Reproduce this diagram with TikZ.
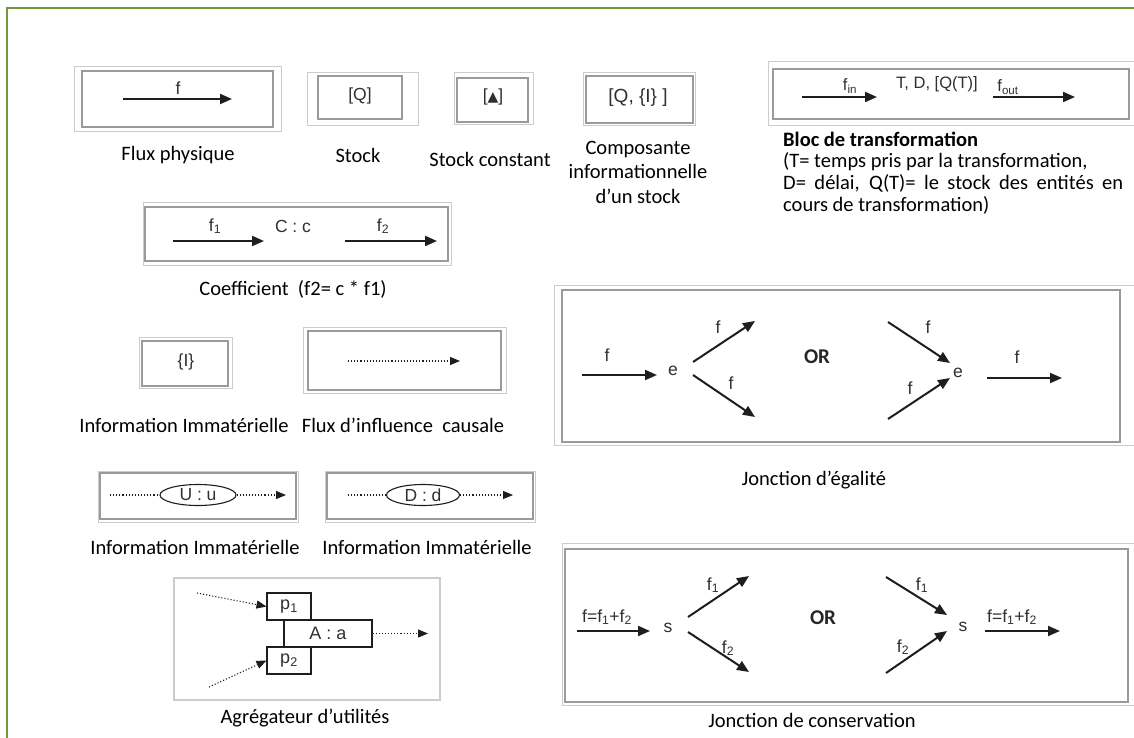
\documentclass[tikz,border=0pt]{standalone}
\usepackage{fontspec}
\setmainfont{Carlito}
\newfontfamily\arialf{Liberation Sans}
\newfontfamily\dejavuf{DejaVu Sans}
\usetikzlibrary{arrows.meta,shapes.geometric}
\definecolor{bordergreen}{HTML}{77933C}
\definecolor{outergray}{HTML}{CCCCCC}
\definecolor{innergray}{HTML}{9A9A9A}
\definecolor{inkdark}{HTML}{1E1E1E}
\definecolor{txtgray}{HTML}{303030}
\tikzset{
  outerbox/.style={draw=outergray, line width=1},
  innerbox/.style={draw=innergray, line width=1.6},
  flow/.style={draw=inkdark, line width=2, -{Triangle[length=12pt,width=10pt]}},
  infl/.style={draw=inkdark, line width=1.1, dotted, -{Triangle[length=10pt,width=8pt]}},
  inflline/.style={draw=inkdark, line width=1.1, dotted},
  lab/.style={font=\fontsize{20.5}{24.5}\selectfont, text=black, inner sep=0},
  dtxt/.style={font=\arialf\fontsize{17.5}{20}\selectfont, text=txtgray, inner sep=0},
  ortxt/.style={font=\bfseries\fontsize{21}{24}\selectfont, text=black!85, inner sep=0},
  ellnode/.style={ellipse, draw=inkdark, line width=1.1, minimum width=76, minimum height=21, inner sep=0, font=\arialf\fontsize{17.5}{19}\selectfont, text=txtgray},
  aggbox/.style={rectangle, draw=inkdark, line width=1.1, inner sep=0, font=\arialf\fontsize{18}{20}\selectfont, text=txtgray, minimum height=27}
}
\begin{document}
\begin{tikzpicture}[x=1pt,y=-1pt]
\useasboundingbox (0,0) rectangle (1134,738);
\fill[white] (0,0) rectangle (1134,738);
\draw[bordergreen, line width=2.2] (7,740) -- (7,8) -- (1136,8);

% Flux physique
\draw[outerbox] (74,67) rectangle (281,132);
\draw[innerbox] (82,71) rectangle (273,127);
\coordinate (fpA) at (123,99); \coordinate (fpB) at (232,99);
\draw[flow] (fpA) -- (fpB);
\node[dtxt] (fpf) at (178,88) {f};
\node[lab] (fplab) at (178,155) {Flux physique};

% Stock
\draw[outerbox] (307,73) rectangle (418,126);
\draw[innerbox] (318,76) rectangle (402,119);
\node[dtxt] (stq) at (360,96) {[Q]};
\node[lab] (stlab) at (358,155) {Stock};

% Stock constant
\draw[outerbox] (454,73) rectangle (533,125);
\draw[innerbox] (457,78) rectangle (528,122);
\node[dtxt] (sct) at (493,97) {[{\dejavuf\fontsize{14}{15}\selectfont ▲}]};
\node[lab] (sclab) at (490,159) {Stock constant};

% Composante informationnelle
\draw[outerbox] (583,73) rectangle (695,126);
\draw[innerbox] (586,76) rectangle (693,123);
\node[dtxt, font=\arialf\fontsize{19}{21}\selectfont] (cit) at (638,98) {[Q, \{I\} ]};
\node[lab, align=center, font=\fontsize{20.5}{24.5}\selectfont] (cilab) at (638,172) {Composante\\informationnelle\\d’un stock};

% Bloc de transformation
\draw[outerbox] (768,62) rectangle (1140,126);
\draw[innerbox] (773,69) rectangle (1129,119);
\coordinate (btA) at (802,97); \coordinate (btB) at (877,97);
\coordinate (btC) at (993,97); \coordinate (btD) at (1075,97);
\draw[flow] (btA) -- (btB);
\draw[flow] (btC) -- (btD);
\node[dtxt, font=\arialf\fontsize{16.5}{19}\selectfont] (btfin) at (850,86) {f\textsubscript{in}};
\node[dtxt, font=\arialf\fontsize{16.5}{19}\selectfont] (btmid) at (937,84) {T, D, [Q(T)]};
\node[dtxt, font=\arialf\fontsize{16.5}{19}\selectfont] (btfout) at (1008,87) {f\textsubscript{out}};
\node[lab, anchor=west, font=\bfseries\fontsize{20.5}{24.5}\selectfont] (btlab) at (783,139) {Bloc de transformation};
\node[lab, anchor=west] (btl1) at (783,162) {(T= temps pris par la transformation,};
\node[lab, anchor=west] (btl2) at (783,183.5) {\makebox[340pt][s]{D= délai, Q(T)= le stock des entités en}};
\node[lab, anchor=west] (btl3) at (783,205) {cours de transformation)};

% Coefficient
\draw[outerbox] (143,202) rectangle (451,265);
\draw[innerbox] (145,207) rectangle (448,261);
\coordinate (coA) at (173,241); \coordinate (coB) at (264,241);
\coordinate (coC) at (345,241); \coordinate (coD) at (437,241);
\draw[flow] (coA) -- (coB);
\draw[flow] (coC) -- (coD);
\node[dtxt] (cof1) at (215,226) {f\textsubscript{1}};
\node[dtxt] (coc) at (293,226) {C : c};
\node[dtxt] (cof2) at (383,226) {f\textsubscript{2}};
\node[lab] (colab) at (293,289) {Coefficient\ \ (f2= c * f1)};

% Information immaterielle {I}
\draw[outerbox] (139,337) rectangle (232,388);
\draw[innerbox] (142,341) rectangle (228,386);
\node[dtxt] (iit) at (186,362) {\{I\}};
\node[lab] (iilab) at (184,425) {Information Immatérielle};

% Flux d'influence causale
\draw[outerbox] (303,327) rectangle (506,393);
\draw[innerbox] (308,331) rectangle (501,390);
\coordinate (fiA) at (348,361); \coordinate (fiB) at (460,361);
\draw[infl] (fiA) -- (fiB);
\node[lab] (filab) at (403,425) {Flux d’influence\ \ causale};

% U : u
\draw[outerbox] (98,471) rectangle (298,522);
\draw[innerbox] (100,473) rectangle (296,519);
\node[ellnode] (uu) at (198,495) {U : u};
\coordinate (uA) at (110,495); \coordinate (uB) at (286,495);
\draw[inflline] (uA) -- (uu.west);
\draw[infl] (uu.east) -- (uB);
\node[lab] (uulab) at (195,547) {Information Immatérielle};

% D : d
\draw[outerbox] (325,471) rectangle (535,522);
\draw[innerbox] (327,473) rectangle (533,519);
\node[ellnode, minimum width=73] (dd) at (423,495) {D : d};
\coordinate (dA) at (348,495); \coordinate (dB) at (513,495);
\draw[inflline] (dA) -- (dd.west);
\draw[infl] (dd.east) -- (dB);
\node[lab] (ddlab) at (427,547) {Information Immatérielle};

% Agregateur d'utilites
\draw[outerbox, line width=1.3] (174,578) rectangle (440,700);
\node[aggbox, minimum width=88] (agA) at (328,633.5) {A : a};
\node[aggbox, minimum width=44] (agp1) at (289,606.5) {p\textsubscript{1}};
\node[aggbox, minimum width=44] (agp2) at (289,660.5) {p\textsubscript{2}};
\coordinate (agi1) at (197,593); \coordinate (agi2) at (209,687); \coordinate (ago) at (428,633.5);
\draw[infl] (agi1) -- (agp1.west);
\draw[infl] (agi2) -- (agp2.west);
\draw[infl] (agA.east) -- (ago);
\node[lab] (aglab) at (305,718) {Agrégateur d’utilités};

% Jonction d'egalite
\draw[outerbox] (554,285) rectangle (1140,445);
\draw[innerbox] (562,290) rectangle (1120,442);
\coordinate (je1) at (582,375); \coordinate (je2) at (657,375);
\coordinate (je3) at (693,362); \coordinate (je4) at (755,321);
\coordinate (je5) at (693,375); \coordinate (je6) at (755,417);
\coordinate (je7) at (888,322); \coordinate (je8) at (950,363);
\coordinate (je9) at (888,419); \coordinate (je10) at (950,378);
\coordinate (je11) at (987,378); \coordinate (je12) at (1062,378);
\draw[flow] (je1) -- (je2);
\draw[flow] (je3) -- (je4);
\draw[flow] (je5) -- (je6);
\draw[flow] (je7) -- (je8);
\draw[flow] (je9) -- (je10);
\draw[flow] (je11) -- (je12);
\node[dtxt] (jef1) at (607,355) {f};
\node[dtxt] (jee1) at (673,371) {e};
\node[dtxt] (jef2) at (718,327) {f};
\node[dtxt] (jef3) at (731,383) {f};
\node[ortxt] (jeor) at (817,357) {OR};
\node[dtxt] (jef4) at (928,327) {f};
\node[dtxt] (jef5) at (910,388) {f};
\node[dtxt] (jee2) at (958,373) {e};
\node[dtxt] (jef6) at (1017,357) {f};
\node[lab] (jelab) at (814,480) {Jonction d’égalité};

% Jonction de conservation
\draw[outerbox] (562,543) rectangle (1140,705);
\draw[innerbox] (565,549) rectangle (1128,702);
\coordinate (jc1) at (577,631); \coordinate (jc2) at (650,631);
\coordinate (jc3) at (688,617); \coordinate (jc4) at (749,576);
\coordinate (jc5) at (688,632); \coordinate (jc6) at (749,672);
\coordinate (jc7) at (886,577); \coordinate (jc8) at (947,615);
\coordinate (jc9) at (886,673); \coordinate (jc10) at (947,631);
\coordinate (jc11) at (985,631); \coordinate (jc12) at (1060,631);
\draw[flow] (jc1) -- (jc2);
\draw[flow] (jc3) -- (jc4);
\draw[flow] (jc5) -- (jc6);
\draw[flow] (jc7) -- (jc8);
\draw[flow] (jc9) -- (jc10);
\draw[flow] (jc11) -- (jc12);
\node[dtxt] (jcf0) at (607,617) {f=f\textsubscript{1}+f\textsubscript{2}};
\node[dtxt] (jcs1) at (668,628) {s};
\node[dtxt] (jcf1) at (713,585) {f\textsubscript{1}};
\node[dtxt] (jcf2) at (728,648) {f\textsubscript{2}};
\node[ortxt] (jcor) at (823,618) {OR};
\node[dtxt] (jcf3) at (922,585) {f\textsubscript{1}};
\node[dtxt] (jcf4) at (903,647) {f\textsubscript{2}};
\node[dtxt] (jcs2) at (963,627) {s};
\node[dtxt] (jcf5) at (1012,617) {f=f\textsubscript{1}+f\textsubscript{2}};
\node[lab] (jclab) at (812,720) {Jonction de conservation};
\end{tikzpicture}
\end{document}
